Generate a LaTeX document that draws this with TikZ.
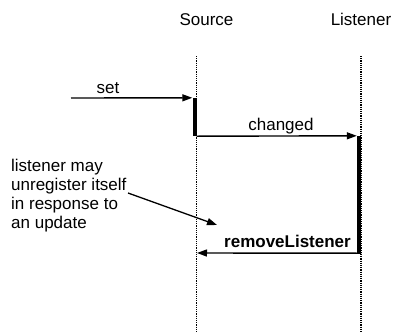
\documentclass[tikz,border=0pt]{standalone}
\usepackage{fontspec}
\setmainfont{Liberation Sans}
\usetikzlibrary{arrows.meta}
\begin{document}
\begin{tikzpicture}[x=1pt,y=-1pt,
  lbl/.style={font=\fontsize{17}{19}\selectfont, inner sep=0pt, anchor=base},
  lifeline/.style={line width=1.5pt, dash pattern=on 1.2pt off 1pt},
  actbar/.style={fill=black, draw=none, minimum width=4pt, inner sep=0pt},
  msg/.style={line width=1.4pt, -{Triangle[length=10pt,width=7pt]}}]
\useasboundingbox (0,0) rectangle (394,333);
% headers
\node[lbl] (src) at (206.5,25) {Source};
\node[lbl] (lst) at (361,25) {Listener};
% lifelines
\coordinate (srcTop) at (196.5,56);
\coordinate (srcBot) at (196.5,333);
\coordinate (lstTop) at (361,56);
\coordinate (lstBot) at (361,333);
\draw[lifeline] (srcTop) -- (srcBot);
\draw[lifeline] (lstTop) -- (lstBot);
% activation bars
\node[actbar, minimum height=38pt] (srcAct) at (194.5,117) {};
\node[actbar, minimum height=117pt] (lstAct) at (359,194.5) {};
% set
\coordinate (setStart) at (71,98);
\draw[msg] (setStart) -- (srcAct.north west);
\node[lbl] (setL) at (108,93) {set};
% changed
\draw[msg] (srcAct.south east) -- (lstAct.north west);
\node[lbl] (chL) at (281,130) {changed};
% removeListener
\coordinate (rmEnd) at (197,253);
\draw[msg] (lstAct.south east) -- (rmEnd);
\node[lbl, font=\fontsize{17}{19}\selectfont\bfseries] (rmL) at (287.5,247) {removeListener};
% note
\node[font=\fontsize{17}{18.8}\selectfont, inner sep=0pt, align=left, anchor=base west] (note) at (11,228)
  {listener may\\unregister itself\\in response to\\an update};
\coordinate (noteStart) at (128,193);
\coordinate (noteEnd) at (217,225);
\draw[msg, line width=1.3pt] (noteStart) -- (noteEnd);
\end{tikzpicture}
\end{document}
